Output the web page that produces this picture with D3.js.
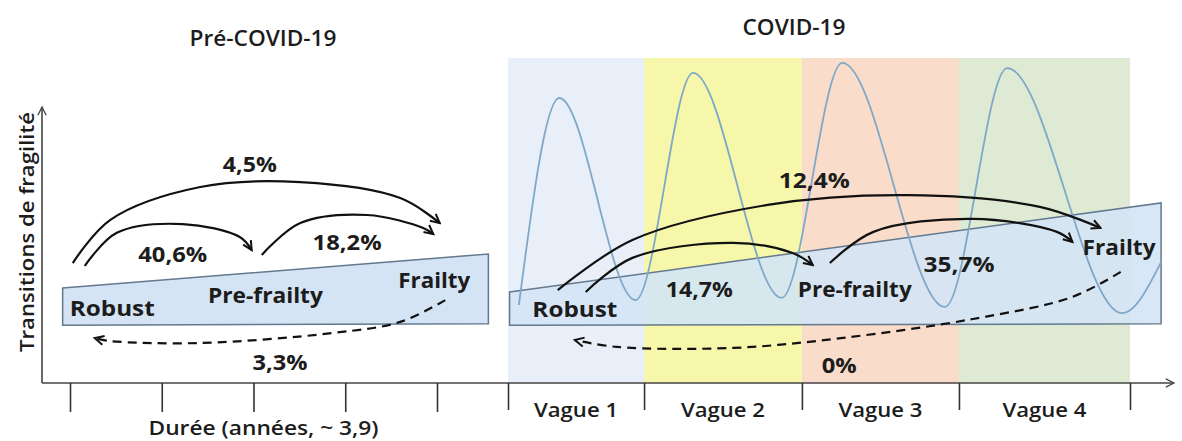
<!DOCTYPE html>
<html><head><meta charset="utf-8">
<script src="https://cdn.jsdelivr.net/npm/d3@7"></script>
<style>body{margin:0;background:#fff}svg{display:block}</style>
</head><body><svg id="c" width="1182" height="441"></svg>
<script>
// ---------- data ----------
const panelTitles = ["Pré-COVID-19", "COVID-19"];
const states = ["Robust", "Pre-frailty", "Frailty"];
// transitions: Robust→Pre-frailty, Pre-frailty→Frailty, Robust→Frailty, Frailty→Robust
const preTransitions = [40.6, 18.2, 4.5, 3.3];
const covidTransitions = [14.7, 35.7, 12.4, 0];
const yearTicks = [0, 1, 2, 3, 4];
const durationLabel = "Durée (années, ~ 3,9)";
const yAxisLabel = "Transitions de fragilité";
const waveNames = ["Vague 1", "Vague 2", "Vague 3", "Vague 4"];
const waveBounds = [0, 0.875, 1.89, 2.9, 4.0];
const waveT = [0.07, 0.33, 0.82, 1.19, 1.76, 2.15, 2.81, 3.21, 3.95, 4.20];
const waveLevel = [24.0, 87.7, 25.5, 95.4, 26.2, 98.5, 23.4, 96.9, 21.5, 37.2];

// ---------- scales ----------
const xL = d3.scaleLinear().domain([0, 4]).range([70, 437]);
const xR = d3.scaleLinear().domain([0, 4]).range([508, 1130]);
const y = d3.scaleLinear().domain([0, 100]).range([383, 58]);

const loc = d3.formatLocale({decimal: ",", thousands: " ", grouping: [3], currency: ["", "€"]});
const pct = v => v === 0 ? "0%" : loc.format(".1f")(v) + "%";

const FONT = "'Open Sans','Noto Sans',sans-serif";
const INK = "#1c1c1c";
const svg = d3.select("#c");
const defs = svg.append("defs");

function marker(id, color, size, sw) {
  defs.append("marker").attr("id", id)
    .attr("viewBox", "0 0 12 12").attr("refX", 10).attr("refY", 6)
    .attr("markerWidth", size).attr("markerHeight", size)
    .attr("markerUnits", "userSpaceOnUse").attr("orient", "auto")
    .append("path").attr("d", "M1,1.5 L10,6 L1,10.5")
    .attr("fill", "none").attr("stroke", color).attr("stroke-width", sw)
    .attr("stroke-linejoin", "miter");
}
marker("ah", "#111", 12, 2);
marker("axh", "#444", 11, 1.4);

// ---------- layout (in scale units) ----------
const layout = {
  left: {
    trap: [[-0.08, 29.2], [4.56, 39.7], [4.56, 18.2], [-0.08, 17.8]],
    stateLbl: [[0.46, 20.6, 85], [2.13, 24.6, 115], [3.97, 29.2, 72]],
    arcs: [
      [[0.16, 36.0], [0.51, 46.2], [1.23, 48.9], [1.85, 44.9], [1.98, 40.9]],
      [[2.09, 39.4], [2.51, 49.2], [3.24, 51.7], [3.85, 47.7], [3.96, 45.8]],
      [[0.03, 36.9], [0.44, 50.2], [1.42, 60.3], [2.51, 61.8], [3.60, 56.9], [4.03, 49.2]],
      [[4.09, 25.5], [3.60, 18.8], [2.87, 15.4], [1.42, 12.3], [0.44, 12.9], [0.27, 13.8]]
    ],
    pctLbl: [[1.12, 37.2, 69], [3.02, 40.9, 69], [1.96, 64.9, 54], [2.29, 4.0, 55]]
  },
  right: {
    trap: [[0.01, 28.0], [4.20, 55.4], [4.20, 18.2], [0.01, 17.8]],
    stateLbl: [[0.43, 20.3, 85], [2.23, 26.5, 114], [3.93, 39.4, 73]],
    arcs: [
      [[0.50, 28.0], [0.80, 38.5], [1.45, 43.1], [1.83, 40.0], [1.96, 36.3]],
      [[2.07, 36.9], [2.35, 46.5], [2.99, 50.5], [3.53, 46.5], [3.63, 43.4]],
      [[0.32, 28.6], [0.80, 44.0], [1.67, 54.8], [2.57, 57.8], [3.42, 54.2], [3.81, 47.7]],
      [[3.94, 34.2], [3.63, 26.5], [2.99, 19.7], [2.14, 13.8], [1.45, 10.8], [0.70, 11.1], [0.43, 13.2]]
    ],
    pctLbl: [[1.23, 26.5, 67], [2.90, 34.2, 71], [1.97, 60.0, 71], [2.13, 3.1, 35]]
  }
};

function text(g, x, yb, str, size, weight, len, anchor) {
  const t = g.append("text").attr("x", x).attr("y", yb)
    .attr("text-anchor", anchor || "middle")
    .attr("font-family", FONT).attr("font-size", size).attr("font-weight", weight)
    .attr("fill", INK).text(str);
  if (len) t.attr("textLength", len).attr("lengthAdjust", "spacingAndGlyphs");
  return t;
}

// ---------- COVID wave bands ----------
const bandColors = ["#e9eff8", "#f6f7ab", "#f9dcca", "#deead4"];
svg.append("g").selectAll("rect").data(waveNames).join("rect")
  .attr("x", (d, i) => xR(waveBounds[i]))
  .attr("width", (d, i) => xR(waveBounds[i + 1]) - xR(waveBounds[i]))
  .attr("y", y(100)).attr("height", y(0) - y(100))
  .attr("fill", (d, i) => bandColors[i]);

// ---------- panels ----------
function panel(sx, L, opacity) {
  const g = svg.append("g");
  g.append("path")
    .attr("d", d3.line().x(d => sx(d[0])).y(d => y(d[1]))(L.trap) + "Z")
    .attr("fill", "#d4e4f5").attr("fill-opacity", opacity)
    .attr("stroke", "#62798f").attr("stroke-width", 1.5);
  return g;
}
function panelMarks(g, sx, L, vals) {
  const line = d3.line().x(d => sx(d[0])).y(d => y(d[1])).curve(d3.curveCatmullRom.alpha(0.5));
  L.arcs.forEach((pts, i) => {
    g.append("path").attr("d", line(pts))
      .attr("fill", "none").attr("stroke", "#111").attr("stroke-width", 2.2)
      .attr("stroke-dasharray", i === 3 ? "9,6" : null)
      .attr("marker-end", "url(#ah)");
  });
  L.stateLbl.forEach((p, i) => text(g, sx(p[0]), y(p[1]), states[i], 22, 700, p[2]));
  L.pctLbl.forEach((p, i) => text(g, sx(p[0]), y(p[1]), pct(vals[i]), 21, 700, p[2]));
}

const gLeft = panel(xL, layout.left, 1);
panelMarks(gLeft, xL, layout.left, preTransitions);

const gRight = panel(xR, layout.right, 0.9);
// wave line
gRight.append("path")
  .datum(waveT.map((t, i) => [t, waveLevel[i]]))
  .attr("d", d3.line().x(d => xR(d[0])).y(d => y(d[1])).curve(d3.curveMonotoneX))
  .attr("fill", "none").attr("stroke", "#7fa8c8").attr("stroke-width", 1.8);
panelMarks(gRight, xR, layout.right, covidTransitions);

// ---------- axes ----------
const ax = svg.append("g");
ax.append("line").attr("x1", xL.range()[0] - 28).attr("x2", xL.range()[0] - 28)
  .attr("y1", y(0)).attr("y2", y(0) - 276)
  .attr("stroke", "#444").attr("stroke-width", 1.6).attr("marker-end", "url(#axh)");
ax.append("line").attr("x1", xL.range()[0] - 28).attr("x2", xR.range()[1] + 44)
  .attr("y1", y(0)).attr("y2", y(0))
  .attr("stroke", "#444").attr("stroke-width", 1.6).attr("marker-end", "url(#axh)");

const tL = svg.append("g").attr("transform", `translate(0,${y(0)})`)
  .call(d3.axisBottom(xL).tickValues(yearTicks).tickSize(29).tickFormat(""));
const tR = svg.append("g").attr("transform", `translate(0,${y(0)})`)
  .call(d3.axisBottom(xR).tickValues(waveBounds).tickSize(27).tickFormat(""));
[tL, tR].forEach(g => {
  g.select(".domain").remove();
  g.selectAll(".tick line").attr("stroke", "#333").attr("stroke-width", 1.6);
});

// wave labels
waveNames.forEach((w, i) => {
  text(svg, (xR(waveBounds[i]) + xR(waveBounds[i + 1])) / 2, 417, w, 20, 600, 84);
});
text(svg, (xL(0) + xL(4)) / 2 + 10, 435, durationLabel, 20, 600, 230);

// titles
text(svg, 263, 46, panelTitles[0], 21, 600, 147);
text(svg, 794, 35, panelTitles[1], 21, 600, 103);

// y label
svg.append("text")
  .attr("transform", "translate(34,232) rotate(-90)")
  .attr("text-anchor", "middle").attr("font-family", FONT)
  .attr("font-size", 19).attr("font-weight", 600).attr("fill", INK)
  .attr("textLength", 240).attr("lengthAdjust", "spacingAndGlyphs")
  .text(yAxisLabel);
</script>
</body></html>
